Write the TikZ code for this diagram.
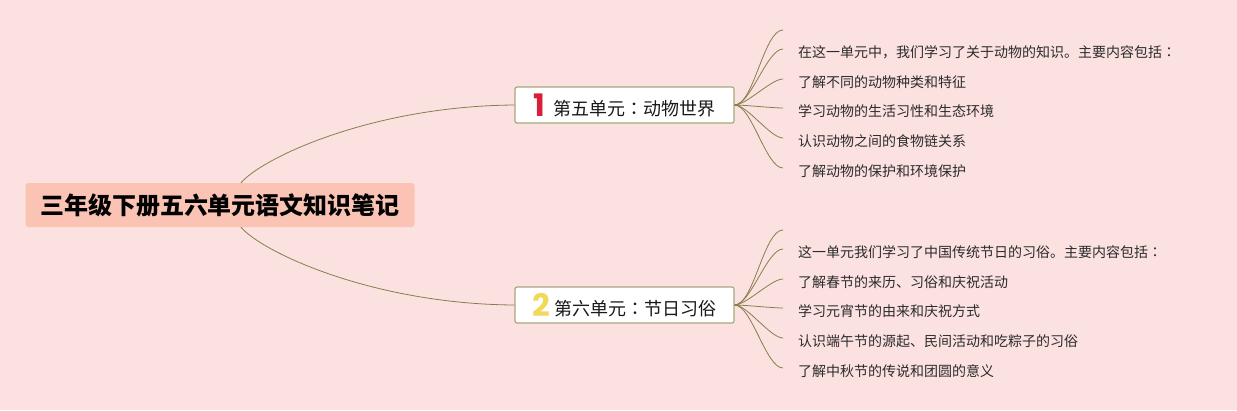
\documentclass[tikz,border=0pt]{standalone}
\usepackage{fontspec}
\setmainfont{Noto Sans CJK SC}
\newfontfamily\numfont{Poppins}
\newfontfamily\jpfont{Noto Sans CJK JP}
\newcommand{\ccolon}{{\jpfont ：}}
\definecolor{bgpink}{HTML}{FCE1E1}
\definecolor{rootfill}{HTML}{FBC3B3}
\definecolor{boxline}{HTML}{A9A67E}
\definecolor{linkcol}{HTML}{857F4B}
\definecolor{numred}{HTML}{D81F3A}
\definecolor{numyellow}{HTML}{F3D95A}
\definecolor{leaftext}{HTML}{2B2B2B}
\tikzset{
  rootbox/.style={fill=rootfill, rounded corners=3pt, minimum width=389pt, minimum height=44pt, inner sep=0pt, font=\bfseries\fontsize{24}{28}\selectfont, text=black},
  branchbox/.style={fill=white, draw=boxline, line width=1.2pt, rounded corners=2pt, minimum width=219pt, minimum height=36pt, inner sep=0pt, font=\fontsize{18}{20}\selectfont, text=black!90},
  leaf/.style={anchor=west, inner sep=0pt, font=\fontsize{14}{16}\selectfont, text=leaftext},
  mainlink/.style={draw=linkcol, line width=0.8pt},
  leaflink/.style={draw=linkcol, line width=0.8pt, out=0, in=180, looseness=0.55},
}
\begin{document}
\begin{tikzpicture}[x=1pt,y=-1pt]
\fill[bgpink] (0,0) rectangle (1237,410);
\useasboundingbox (0,0) rectangle (1237,410);

\node[rootbox] (root) at (220,205) {三年级下册五六单元语文知识笔记};

\node[branchbox] (b1) at (624.5,105) {{\numfont\bfseries\fontsize{31}{31}\selectfont\color{numred}\raisebox{-1pt}{1}}\hspace{8pt}第五单元\ccolon 动物世界};
\node[branchbox] (b2) at (624.5,305) {{\numfont\bfseries\fontsize{31}{31}\selectfont\color{numyellow}\raisebox{-1pt}{2}}\hspace{5pt}第六单元\ccolon 节日习俗};

\draw[mainlink] ([xshift=21pt]root.north) .. controls (262,158) and (372,106) .. (b1.west);
\draw[mainlink] ([xshift=21pt]root.south) .. controls (262,252) and (372,304) .. (b2.west);

% unit 5 leaves
\coordinate (a0) at (783,30);
\node[leaf] (a1) at (798,52) {在这一单元中，我们学习了关于动物的知识。主要内容包括\ccolon};
\node[leaf] (a2) at (798,82) {了解不同的动物种类和特征};
\node[leaf] (a3) at (798,111) {学习动物的生活习性和生态环境};
\node[leaf] (a4) at (798,141) {认识动物之间的食物链关系};
\node[leaf] (a5) at (798,171) {了解动物的保护和环境保护};

\draw[leaflink] (b1.east) to (a0);
\foreach \n in {a1,a2,a3,a4,a5}{
  \draw[leaflink] (b1.east) to ([xshift=-15pt,yshift=3pt]\n.west);
}

% unit 6 leaves
\coordinate (c0) at (783,230);
\node[leaf] (c1) at (798,252) {这一单元我们学习了中国传统节日的习俗。主要内容包括\ccolon};
\node[leaf] (c2) at (798,282) {了解春节的来历、习俗和庆祝活动};
\node[leaf] (c3) at (798,311) {学习元宵节的由来和庆祝方式};
\node[leaf] (c4) at (798,341) {认识端午节的源起、民间活动和吃粽子的习俗};
\node[leaf] (c5) at (798,371) {了解中秋节的传说和团圆的意义};

\draw[leaflink] (b2.east) to (c0);
\foreach \n in {c1,c2,c3,c4,c5}{
  \draw[leaflink] (b2.east) to ([xshift=-15pt,yshift=3pt]\n.west);
}
\end{tikzpicture}
\end{document}
